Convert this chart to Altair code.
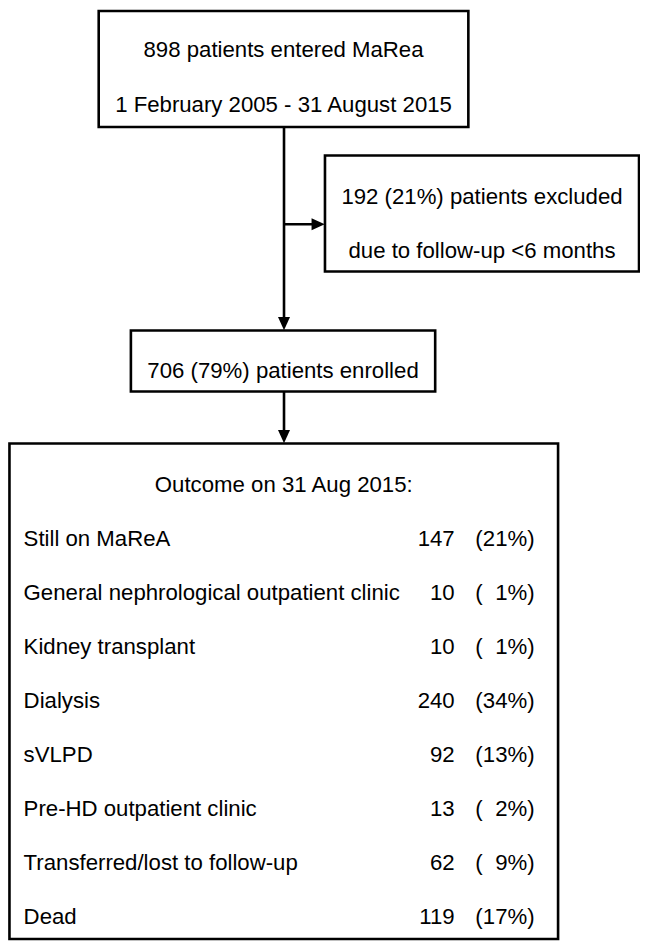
import altair as alt
import pandas as pd

# ---- text content ----
entered_lines = ["898 patients entered MaRea", "1 February 2005 - 31 August 2015"]
excluded_lines = ["192 (21%) patients excluded", "due to follow-up <6 months"]
enrolled_line = "706 (79%) patients enrolled"
outcome_title = "Outcome on 31 Aug 2015:"
categories = ["Still on MaReA", "General nephrological outpatient clinic",
              "Kidney transplant", "Dialysis", "sVLPD", "Pre-HD outpatient clinic",
              "Transferred/lost to follow-up", "Dead"]
counts = [147, 10, 10, 240, 92, 13, 62, 119]
percents = [21, 1, 1, 34, 13, 2, 9, 17]

# ---- layout (reference pixel coordinates) ----
W, H = 632, 935
FONT = "Liberation Sans"
FS = 22.2
LW = 2.6
box_entered = (93, 472, 3, 121)
box_excluded = (325, 647, 150, 268)
box_enrolled = (126, 438, 328, 390)
box_outcome = (1.5, 564, 443, 947)
spine_x = 283
branch_y = 220
entered_text_y = [43, 99]
excluded_text_y = [192, 247]
enrolled_text_y = 369
title_y = 485
row_y0, row_dy = 540, 55
label_x, count_x, paren_x, pct_x = 16, 458, 479, 540

xs = alt.Scale(domain=[0, 648], nice=False, zero=False)
ys = alt.Scale(domain=[0, 951], reverse=True, nice=False, zero=False)
X = lambda f: alt.X(f, type="quantitative", scale=xs, axis=None)
Y = lambda f: alt.Y(f, type="quantitative", scale=ys, axis=None)

boxes = pd.DataFrame([dict(x=b[0], x2=b[1], y=b[2], y2=b[3]) for b in
                      [box_entered, box_excluded, box_enrolled, box_outcome]])
segs = pd.DataFrame([
    dict(x=spine_x, x2=spine_x, y=box_entered[3], y2=box_enrolled[2] - 5),
    dict(x=spine_x, x2=box_excluded[0] - 5, y=branch_y, y2=branch_y),
    dict(x=spine_x, x2=spine_x, y=box_enrolled[3], y2=box_outcome[2] - 5),
])
DOWN = "M-1,-1.1L1,-1.1L0,1.1Z"
RIGHT = "M-1.1,-1L1.1,0L-1.1,1Z"
heads = pd.DataFrame([
    dict(x=spine_x, y=box_enrolled[2] - 7, shape=DOWN),
    dict(x=box_excluded[0] - 7, y=branch_y, shape=RIGHT),
    dict(x=spine_x, y=box_outcome[2] - 7, shape=DOWN),
])

cx1 = (box_entered[0] + box_entered[1]) / 2
cx2 = (box_excluded[0] + box_excluded[1]) / 2
cx3 = (box_enrolled[0] + box_enrolled[1]) / 2
cx4 = (box_outcome[0] + box_outcome[1]) / 2
center_txt = pd.DataFrame([
    dict(x=cx1, y=entered_text_y[0], t=entered_lines[0]),
    dict(x=cx1, y=entered_text_y[1], t=entered_lines[1]),
    dict(x=cx2, y=excluded_text_y[0], t=excluded_lines[0]),
    dict(x=cx2, y=excluded_text_y[1], t=excluded_lines[1]),
    dict(x=cx3, y=enrolled_text_y, t=enrolled_line),
    dict(x=cx4, y=title_y, t=outcome_title),
])
rows = pd.DataFrame(dict(
    cat=categories, n=[str(c) for c in counts],
    pct=[f"{p}%)" for p in percents], paren=["("] * len(categories),
    y=[row_y0 + i * row_dy for i in range(len(categories))],
    lx=label_x, cx=count_x, px=paren_x, qx=pct_x,
))

rect = alt.Chart(boxes).mark_rect(fill="white", stroke="black", strokeWidth=LW).encode(
    x=X("x"), x2="x2:Q", y=Y("y"), y2="y2:Q")
rule = alt.Chart(segs).mark_rule(color="black", strokeWidth=LW).encode(
    x=X("x"), x2="x2:Q", y=Y("y"), y2="y2:Q")
head = alt.Chart(heads).mark_point(filled=True, color="black", opacity=1, size=144,
                                   strokeWidth=0).encode(
    x=X("x"), y=Y("y"), shape=alt.Shape("shape:N", scale=None))


def txt(df, col, align, xcol):
    return alt.Chart(df).mark_text(font=FONT, fontSize=FS, color="black",
                                   align=align, baseline="middle").encode(
        x=X(xcol), y=Y("y"), text=f"{col}:N")


layers = [
    rect, rule, head,
    txt(center_txt, "t", "center", "x"),
    txt(rows, "cat", "left", "lx"),
    txt(rows, "n", "right", "cx"),
    txt(rows, "paren", "left", "px"),
    txt(rows, "pct", "right", "qx"),
]

chart = alt.layer(*layers).properties(
    width=W, height=H, padding=0, autosize=alt.AutoSizeParams(type="none")
).configure_view(stroke=None)

chart.save("out.html", embed_options={"renderer": "svg", "actions": False})
